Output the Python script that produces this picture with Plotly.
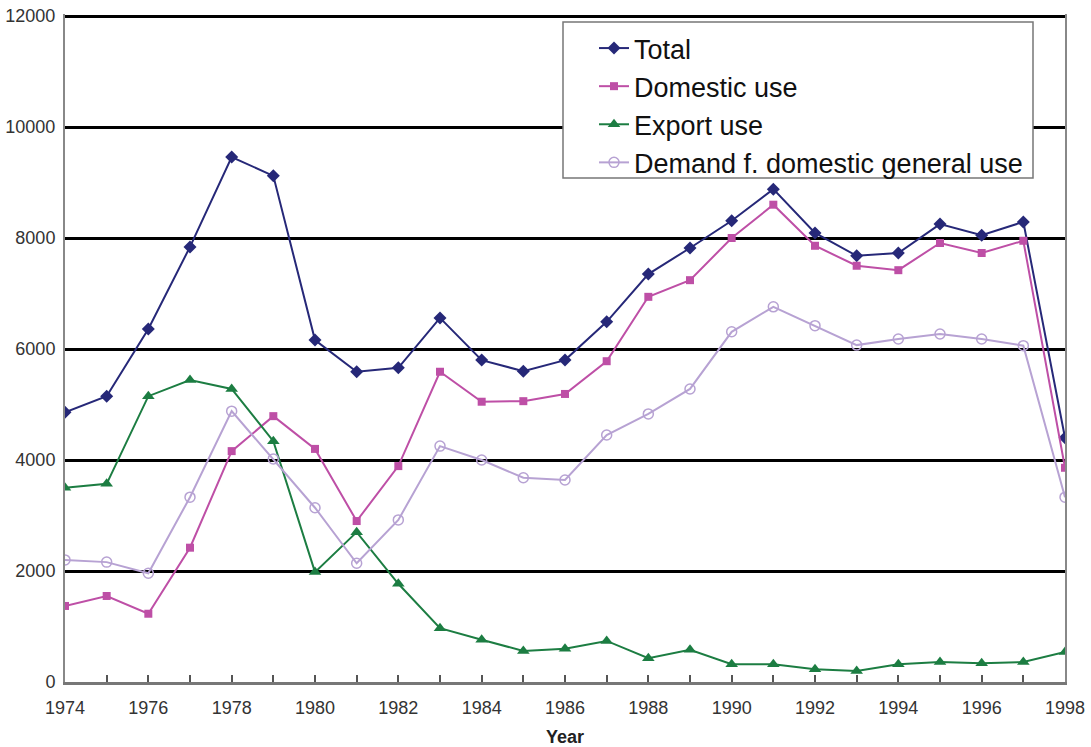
import plotly.graph_objects as go

years = list(range(1974, 1999))

total = [4860, 5150, 6360, 7840, 9460, 9120, 6160, 5590, 5660, 6560, 5800, 5600,
         5800, 6490, 7350, 7820, 8310, 8880, 8090, 7680, 7730, 8250, 8050, 8290, 4400]
domestic = [1370, 1550, 1230, 2420, 4160, 4790, 4200, 2900, 3890, 5590, 5050, 5060,
            5190, 5780, 6940, 7240, 8000, 8600, 7860, 7500, 7420, 7910, 7730, 7950, 3860]
export = [3500, 3570, 5150, 5440, 5280, 4340, 1980, 2700, 1770, 970, 760, 560,
          600, 740, 430, 580, 320, 320, 230, 200, 320, 360, 340, 360, 540]
general = [2200, 2160, 1960, 3330, 4880, 4020, 3140, 2140, 2920, 4250, 4000, 3680,
           3640, 4450, 4830, 5280, 6310, 6760, 6420, 6070, 6180, 6270, 6180, 6060, 3330]

y_ticks = list(range(0, 12001, 2000))

series = [
    ("Total", total, "#262878", dict(symbol="diamond", size=10)),
    ("Domestic use", domestic, "#BE4FA6", dict(symbol="square", size=8)),
    ("Export use", export, "#1C7D42", dict(symbol="triangle-up", size=11)),
    ("Demand f. domestic general use", general, "#B7A2D3",
     dict(symbol="circle-open", size=10, line=dict(width=1.5))),
]

fig = go.Figure()
for name, vals, color, marker in series:
    fig.add_trace(go.Scatter(
        x=years, y=vals, name=name, mode="lines+markers",
        line=dict(color=color, width=2),
        marker=dict(color=color, **marker),
    ))

tick_text = [str(y) if y % 2 == 0 else "" for y in years]

# framed box behind the legend entries
fig.add_shape(
    type="rect", xref="paper", yref="paper",
    x0=0.498, x1=0.968, y0=0.7545, y1=0.988,
    fillcolor="white", line=dict(color="#777777", width=1.5), layer="above",
)

fig.update_layout(
    width=1091, height=747,
    margin=dict(l=65, r=26, t=14, b=65),
    plot_bgcolor="white", paper_bgcolor="white",
    font=dict(family="Liberation Sans, Arial, sans-serif", size=17, color="#333333"),
    showlegend=True,
    legend=dict(
        x=0.529, y=0.985, xanchor="left", yanchor="top",
        bgcolor="rgba(0,0,0,0)", borderwidth=0,
        font=dict(size=27, color="#111111"),
        itemwidth=30, tracegroupgap=0,
    ),
    xaxis=dict(
        range=[1974, 1998], tickvals=years, ticktext=tick_text,
        ticks="inside", ticklen=7, tickcolor="#555555", tickwidth=1.5,
        showline=True, linecolor="#777777", linewidth=2.5,
        showgrid=False, zeroline=False, automargin=False,
        ticklabelstandoff=8, tickfont=dict(size=18),
        title=dict(text="<b>Year</b>", font=dict(size=18, color="#222222"), standoff=14),
    ),
    yaxis=dict(
        range=[0, 12036], tickvals=y_ticks, ticktext=[str(v) for v in y_ticks],
        showline=True, mirror=True, linecolor="#888888", linewidth=2,
        showgrid=True, gridcolor="#000000", gridwidth=2.5,
        zeroline=False, ticks="", ticklabelstandoff=4, automargin=False,
        tickfont=dict(size=18),
    ),
)

fig.write_html("out.html")
